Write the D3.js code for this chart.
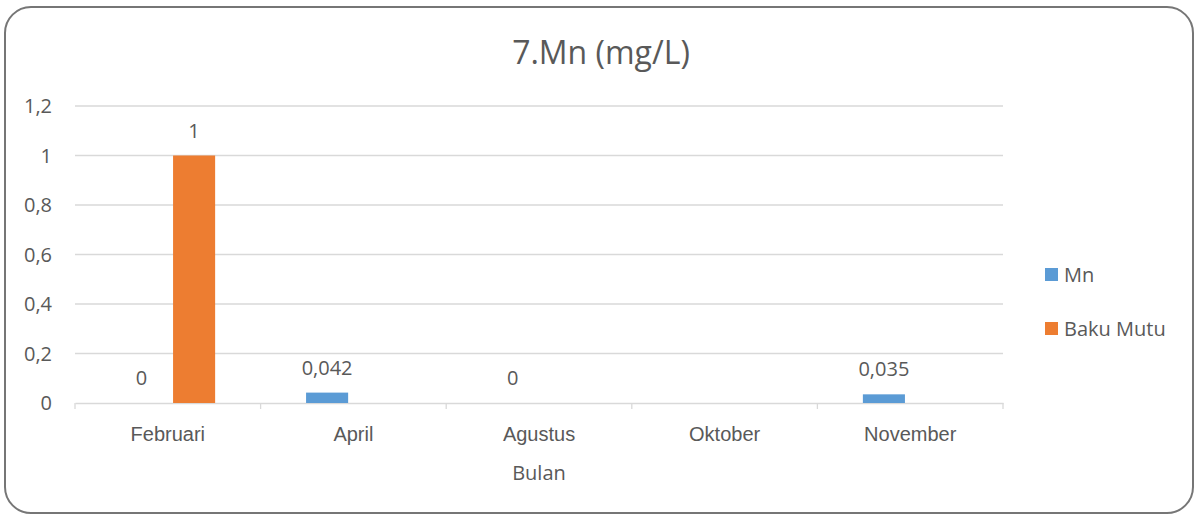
<!DOCTYPE html>
<html>
<head>
<meta charset="utf-8">
<script src="https://cdn.jsdelivr.net/npm/d3@7"></script>
<style>
  html, body { margin: 0; padding: 0; background: #fff; }
  svg { display: block; font-family: "Open Sans", "Noto Sans", sans-serif; }
  .tick-label { fill: #595959; font-size: 20px; }
</style>
</head>
<body>
<div id="chart"></div>
<script>
/* 7.Mn (mg/L) — grouped column chart */

const months = ['Februari', 'April', 'Agustus', 'Oktober', 'November'];
const series = ['Mn', 'Baku Mutu'];
const mnValues = [0, 0.042, 0, null, 0.035];
const bakuValues = [1, null, null, null, null];
const yTicks = [0, 0.2, 0.4, 0.6, 0.8, 1, 1.2];
const colors = { 'Mn': '#5B9BD5', 'Baku Mutu': '#ED7D31' };

const W = 1198, H = 519;
const plot = { left: 75, right: 1003, top: 106, bottom: 403 };

const fmtComma = (v) => String(v).replace('.', ',');

const svg = d3.select('#chart').append('svg')
  .attr('width', W).attr('height', H);

// outer frame
svg.append('rect')
  .attr('x', 5).attr('y', 7)
  .attr('width', W - 10).attr('height', H - 13)
  .attr('rx', 26).attr('ry', 26)
  .attr('fill', '#fff')
  .attr('stroke', '#767676')
  .attr('stroke-width', 2);

const x0 = d3.scaleBand().domain(months).range([plot.left, plot.right]).padding(0);
const bw = x0.bandwidth();
const x1 = d3.scaleBand().domain(series).range([bw * 0.245, bw * 0.755]).paddingInner(0.2);
const y = d3.scaleLinear().domain([0, 1.2]).range([plot.bottom, plot.top]);

// gridlines
svg.append('g')
  .selectAll('line')
  .data(yTicks.filter(t => t > 0))
  .join('line')
  .attr('x1', plot.left).attr('x2', plot.right)
  .attr('y1', d => y(d)).attr('y2', d => y(d))
  .attr('stroke', '#d9d9d9').attr('stroke-width', 1.3);

// y tick labels
svg.append('g')
  .selectAll('text')
  .data(yTicks)
  .join('text')
  .attr('class', 'tick-label')
  .attr('x', 52).attr('y', d => y(d))
  .attr('dy', '0.35em')
  .attr('text-anchor', 'end')
  .text(d => fmtComma(d));

// x axis
const xAxis = svg.append('g')
  .attr('transform', `translate(0,${plot.bottom})`)
  .call(d3.axisBottom(x0).tickSize(0).tickPadding(24));
xAxis.select('.domain').attr('stroke', '#d9d9d9').attr('stroke-width', 1.3);
xAxis.selectAll('text').attr('class', 'tick-label').attr('font-size', null).attr('font-family', null);
const bounds = months.map(m => x0(m)).concat([plot.right]);
xAxis.selectAll('.sep')
  .data(bounds)
  .join('line')
  .attr('class', 'sep')
  .attr('x1', d => d).attr('x2', d => d)
  .attr('y1', 0).attr('y2', 6)
  .attr('stroke', '#d9d9d9').attr('stroke-width', 1.3);

// bars
const rows = months.map((m, i) => ({ month: m, values: [
  { key: 'Mn', value: mnValues[i] },
  { key: 'Baku Mutu', value: bakuValues[i] }
] }));

const groups = svg.append('g')
  .selectAll('g')
  .data(rows)
  .join('g')
  .attr('transform', d => `translate(${x0(d.month)},0)`);

groups.selectAll('rect')
  .data(d => d.values.filter(v => v.value != null && v.value > 0))
  .join('rect')
  .attr('x', d => x1(d.key))
  .attr('width', x1.bandwidth())
  .attr('y', d => y(d.value))
  .attr('height', d => y(0) - y(d.value))
  .attr('fill', d => colors[d.key]);

groups.selectAll('text')
  .data(d => d.values.filter(v => v.value != null))
  .join('text')
  .attr('class', 'tick-label')
  .attr('x', d => x1(d.key) + x1.bandwidth() / 2)
  .attr('y', d => y(d.value) - 18)
  .attr('text-anchor', 'middle')
  .text(d => fmtComma(d.value));

// title
svg.append('text')
  .attr('x', 601).attr('y', 64)
  .attr('text-anchor', 'middle')
  .attr('fill', '#595959')
  .attr('font-size', 32)
  .text('7.Mn (mg/L)');

// x axis title
svg.append('text')
  .attr('class', 'tick-label')
  .attr('x', 539).attr('y', 480)
  .attr('text-anchor', 'middle')
  .text('Bulan');

// legend
const legend = svg.append('g')
  .selectAll('g')
  .data(series)
  .join('g')
  .attr('transform', (d, i) => `translate(1045,${268 + i * 54})`);
legend.append('rect')
  .attr('width', 13).attr('height', 13)
  .attr('fill', d => colors[d]);
legend.append('text')
  .attr('class', 'tick-label')
  .attr('x', 19).attr('y', 7)
  .attr('dy', '0.35em')
  .text(d => d);
</script>
</body>
</html>
